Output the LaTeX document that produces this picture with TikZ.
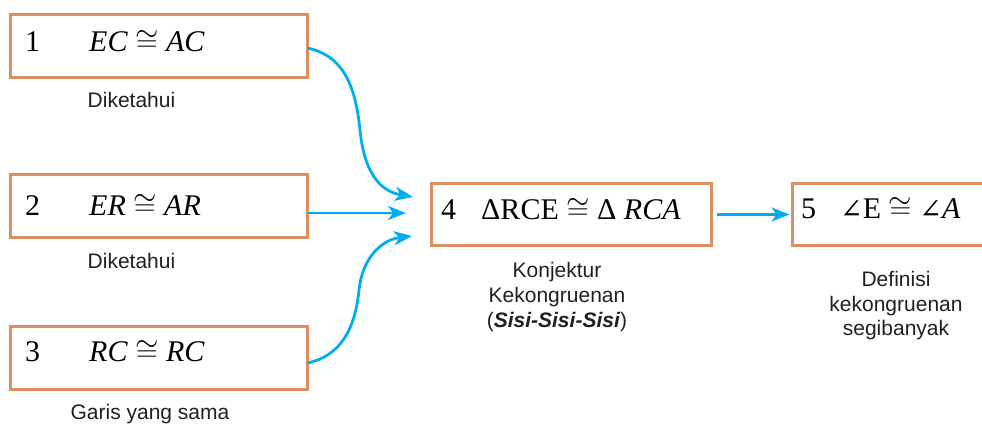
\RequirePackage{fix-cm}
\documentclass[tikz,border=0pt]{standalone}
\usepackage{fontspec}
\setmainfont{Liberation Serif}
\newfontfamily\labfont{Liberation Sans}
\newfontfamily\symfont{DejaVu Serif}
\usetikzlibrary{arrows.meta}
\definecolor{boxc}{RGB}{216,144,98}
\definecolor{arrc}{RGB}{0,174,239}
\definecolor{txt}{RGB}{35,31,32}
\newcommand{\angsym}{{\symfont\fontsize{27}{30}\selectfont ∠}}
\begin{document}
\begin{tikzpicture}[x=1pt,y=-1pt,
  stepbox/.style={draw=boxc,line width=3pt,minimum height=63pt,inner sep=0pt,outer sep=0pt},
  mtext/.style={anchor=base west,inner sep=0pt,font=\fontsize{30}{36}\selectfont,text=black},
  lab/.style={anchor=base,inner sep=0pt,font=\labfont\fontsize{21}{25}\selectfont,text=txt},
  arr/.style={draw=arrc,line width=2.8pt,-{Stealth[length=18pt,width=14pt,inset=5pt]}}]
\useasboundingbox (0,0) rectangle (982,423);
\clip (0,0) rectangle (982,423);
% boxes
\node[stepbox,minimum width=297pt] (b1) at (159,46) {};
\node[stepbox,minimum width=297pt] (b2) at (159,206) {};
\node[stepbox,minimum width=297pt] (b3) at (159,358) {};
\node[stepbox,minimum width=280pt,minimum height=62pt] (b4) at (571.5,214.5) {};
\node[stepbox,minimum width=210pt,minimum height=62pt] (b5) at (897.5,214.5) {};
% box texts
\node[mtext] (t1n) at (25,51) {1};
\node[mtext] (t1f) at (89,51) {\textit{EC} $\cong$ \textit{AC}};
\node[mtext] (t2n) at (25,215) {2};
\node[mtext] (t2f) at (89,215) {\textit{ER} $\cong$ \textit{AR}};
\node[mtext] (t3n) at (25,361) {3};
\node[mtext] (t3f) at (89,361) {\textit{RC} $\cong$ \textit{RC}};
\node[mtext] (t4n) at (441,219) {4};
\node[mtext] (t4f) at (481,219) {ΔRCE $\cong$ Δ \textit{RCA}};
\node[mtext] (t5n) at (801,218) {5};
\node[mtext] (t5f) at (840,218) {\angsym E $\cong$ \angsym\textit{A}};
% labels
\node[lab] (l1) at (131.5,107) {Diketahui};
\node[lab] (l2) at (131.5,268) {Diketahui};
\node[lab] (l3) at (150,419) {Garis yang sama};
\node[lab] (k1) at (557,277) {Konjektur};
\node[lab] (k2) at (557,302) {Kekongruenan};
\node[lab] (k3) at (557,327) {(\textbf{\textit{Sisi-Sisi-Sisi}})};
\node[lab] (d1) at (896,286) {Definisi};
\node[lab] (d2) at (896,311) {kekongruenan};
\node[lab] (d3) at (896,335) {segibanyak};
% arrow targets
\coordinate (in1) at (413,197);
\coordinate (in2) at (406,213);
\coordinate (in3) at (412,236);
% arrows
\draw[arr] ([yshift=-2pt]b1.east) .. controls (340,55) and (355,80) .. (360,130)
  .. controls (365,180) and (385,192) .. (in1);
\draw[arr] (b2.east |- in2) -- (in2);
\draw[arr] ([yshift=-5pt]b3.east) .. controls (340,356) and (355,330) .. (359,290)
  .. controls (362,260) and (380,240) .. (in3);
\draw[arr,shorten <=5pt,shorten >=3pt] (b4.east) -- (b5.west);
\end{tikzpicture}
\end{document}
